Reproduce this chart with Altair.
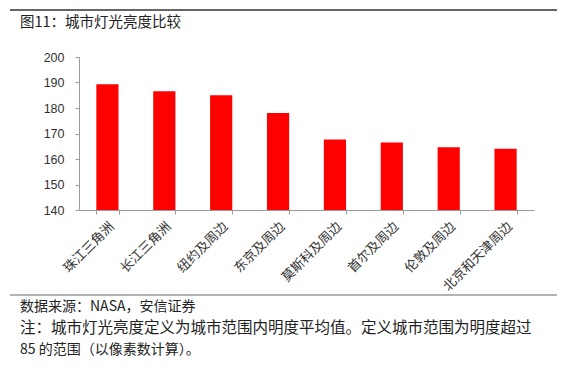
import altair as alt
import pandas as pd

categories = ["珠江三角洲", "长江三角洲", "纽约及周边", "东京及周边", "莫斯科及周边", "首尔及周边", "伦敦及周边", "北京和天津周边"]
values = [189.3, 186.6, 185.0, 178.0, 167.6, 166.5, 164.6, 164.0]
y_ticks = [140, 150, 160, 170, 180, 190, 200]

title_text = "图11：城市灯光亮度比较"
source_text = "数据来源：NASA，安信证券"
note_line1 = "注：城市灯光亮度定义为城市范围内明度平均值。定义城市范围为明度超过"
note_line2 = "85 的范围（以像素数计算）。"

df = pd.DataFrame({"city": categories, "value": values})

W, H = 455, 153
CJK = "Noto Sans CJK SC"

bars = alt.Chart(df).mark_bar(color="#FF0000", clip=True).encode(
    x=alt.X("city:N", sort=categories, title=None,
            scale=alt.Scale(paddingInner=0.61, paddingOuter=0.305),
            axis=alt.Axis(labelAngle=-45, labelAlign="right", labelBaseline="middle",
                          labelFont=CJK, labelFontSize=13, labelColor="#333333",
                          tickBand="extent", tickSize=4, tickColor="#999999",
                          domainColor="#999999", labelPadding=10, labelOffset=4,
                          labelOverlap=False)),
    y=alt.Y("value:Q", title=None,
            scale=alt.Scale(domain=[140, 200], nice=False, zero=False),
            axis=alt.Axis(values=y_ticks, grid=False, tickSize=4, tickColor="#999999",
                          domainColor="#999999", labelFont="Liberation Sans",
                          labelFontSize=12.5, labelColor="#333333", labelPadding=11)),
)

def txt(s, x, y, size=13, color="#222222"):
    return alt.Chart(alt.Data(values=[{}])).mark_text(
        text=s, align="left", baseline="middle", font=CJK, fontSize=size, color=color
    ).encode(x=alt.value(x), y=alt.value(y))

def hline(x1, x2, y, color="#555555", w=1.5):
    return alt.Chart(alt.Data(values=[{}])).mark_rule(color=color, strokeWidth=w).encode(
        x=alt.value(x1), x2=alt.value(x2), y=alt.value(y))

layers = [
    hline(-69, 478, -47, "#666666", 2),
    txt(title_text, -59, -34, 14.5),
    bars,
    hline(-69, 478, 238, "#666666", 1.2),
    txt(source_text, -59, 250, 14),
    txt(note_line1, -59, 271, 15.5),
    txt(note_line2, -59, 293, 14),
]

chart = alt.layer(*layers).properties(
    width=W, height=H,
    autosize=alt.AutoSizeParams(type="none"),
    padding={"left": 71, "top": 49, "right": 25, "bottom": 166},
).configure_view(stroke=None)

chart.save("out.html", embed_options={"renderer": "svg", "actions": False})
